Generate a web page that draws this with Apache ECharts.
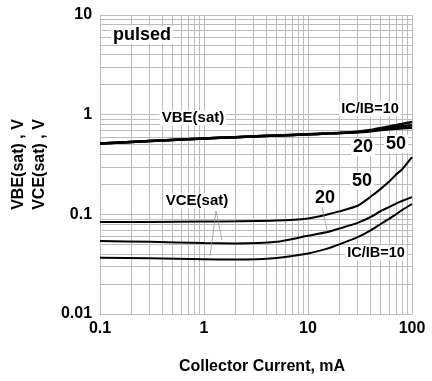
<!DOCTYPE html>
<html>
<head>
<meta charset="utf-8">
<script src="https://cdn.jsdelivr.net/npm/echarts@6/dist/echarts.min.js"></script>
<style>
  html, body { margin: 0; padding: 0; background: #fff; }
  #chart { width: 432px; height: 381px; }
</style>
</head>
<body>
<div id="chart"></div>
<script>
// collector current, mA
var current = [0.1, 0.3, 1, 2, 5, 10, 15, 20, 30, 40, 50, 60, 70, 80, 100];

// VBE(sat), V
var vbe10 = [0.514, 0.545, 0.577, 0.595, 0.618, 0.635, 0.647, 0.655, 0.675, 0.700, 0.735, 0.760, 0.782, 0.808, 0.845];
var vbe20 = [0.514, 0.545, 0.577, 0.595, 0.618, 0.635, 0.647, 0.655, 0.670, 0.690, 0.715, 0.733, 0.750, 0.765, 0.785];
var vbe50 = [0.514, 0.545, 0.577, 0.595, 0.618, 0.635, 0.647, 0.655, 0.666, 0.683, 0.700, 0.712, 0.722, 0.730, 0.738];

// VCE(sat), V
var vce10 = [0.0366, 0.0362, 0.0355, 0.0352, 0.0365, 0.0405, 0.045, 0.050, 0.059, 0.069, 0.080, 0.090, 0.100, 0.110, 0.127];
var vce20 = [0.054, 0.053, 0.0515, 0.051, 0.053, 0.061, 0.066, 0.072, 0.082, 0.094, 0.108, 0.118, 0.128, 0.136, 0.149];
var vce50 = [0.084, 0.084, 0.0845, 0.085, 0.0865, 0.091, 0.099, 0.107, 0.122, 0.150, 0.180, 0.212, 0.250, 0.282, 0.375];

var font = 'Liberation Sans, Arial, sans-serif';
var gridColor = '#bdbdbd';

// log grid lines at 2..9 of each decade
function minorLines(lo, hi) {
  var out = [];
  for (var d = lo; d < hi; d *= 10) {
    for (var k = 2; k <= 9; k++) out.push(+(d * k).toPrecision(3));
  }
  return out;
}
var minorX = minorLines(0.1, 100);
var minorY = minorLines(0.01, 10);

function pairs(ys) {
  return current.map(function (x, i) { return [x, ys[i]]; });
}

function curve(name, ys, width) {
  return {
    name: name,
    type: 'line',
    data: pairs(ys),
    smooth: 0.2,
    symbol: 'none',
    z: 5,
    lineStyle: { color: '#000', width: width }
  };
}

function label(text, x, y, size) {
  return {
    type: 'text',
    x: x, y: y,
    z: 10,
    style: {
      text: text,
      fill: '#000',
      font: 'bold ' + size + 'px ' + font,
      align: 'center',
      verticalAlign: 'middle',
      backgroundColor: '#fff',
      padding: [0, 2]
    }
  };
}

function leader(x1, y1, x2, y2) {
  return {
    type: 'line',
    z: 9,
    shape: { x1: x1, y1: y1, x2: x2, y2: y2 },
    style: { stroke: '#999', lineWidth: 0.8 }
  };
}

var chart = echarts.init(document.getElementById('chart'));
chart.setOption({
  animation: false,
  grid: { left: 97, right: 20, top: 15, bottom: 67 },
  xAxis: {
    type: 'log',
    logBase: 10,
    min: 0.1,
    max: 100,
    name: 'Collector Current, mA',
    nameLocation: 'middle',
    nameGap: 45,
    nameTextStyle: { fontFamily: font, fontWeight: 'bold', fontSize: 16, color: '#000', padding: [0, 0, 0, 12] },
    axisLine: { lineStyle: { color: gridColor, width: 1 } },
    axisTick: { show: false },
    axisLabel: { fontFamily: font, fontWeight: 'bold', fontSize: 16, color: '#000', margin: 7 },
    splitLine: { show: true, lineStyle: { color: gridColor, width: 1 } }
  },
  yAxis: {
    type: 'log',
    logBase: 10,
    min: 0.01,
    max: 10,
    name: 'VBE(sat) , V\nVCE(sat) , V',
    nameLocation: 'middle',
    nameGap: 50,
    nameTextStyle: { fontFamily: font, fontWeight: 'bold', fontSize: 16, color: '#000', lineHeight: 21 },
    axisLine: { lineStyle: { color: gridColor, width: 1 } },
    axisTick: { show: false },
    axisLabel: { fontFamily: font, fontWeight: 'bold', fontSize: 16, color: '#000', margin: 8 },
    splitLine: { show: true, lineStyle: { color: gridColor, width: 1 } }
  },
  series: [
    {
      name: 'grid',
      type: 'line',
      data: [],
      z: 1,
      silent: true,
      markLine: {
        silent: true,
        z: 1,
        symbol: ['none', 'none'],
        label: { show: false },
        lineStyle: { color: gridColor, width: 1, type: 'solid' },
        data: minorX.map(function (v) { return { xAxis: v }; })
          .concat(minorY.map(function (v) { return { yAxis: v }; }))
      }
    },
    curve('VBE IC/IB=10', vbe10, 2.5),
    curve('VBE IC/IB=20', vbe20, 2.5),
    curve('VBE IC/IB=50', vbe50, 2.5),
    curve('VCE IC/IB=10', vce10, 2),
    curve('VCE IC/IB=20', vce20, 2),
    curve('VCE IC/IB=50', vce50, 2)
  ],
  graphic: [
    leader(216, 211, 210, 256),
    leader(216, 211, 222, 240),
    leader(322, 207, 327, 230),
    label('pulsed', 142, 35, 18),
    label('VBE(sat)', 193, 118, 15),
    label('IC/IB=10', 370, 109, 14.5),
    label('20', 363, 147, 18),
    label('50', 396, 144, 18),
    label('50', 362, 181, 18),
    label('20', 325, 198, 18),
    label('VCE(sat)', 197, 201, 15),
    label('IC/IB=10', 376, 253, 14.5)
  ]
});
</script>
</body>
</html>
